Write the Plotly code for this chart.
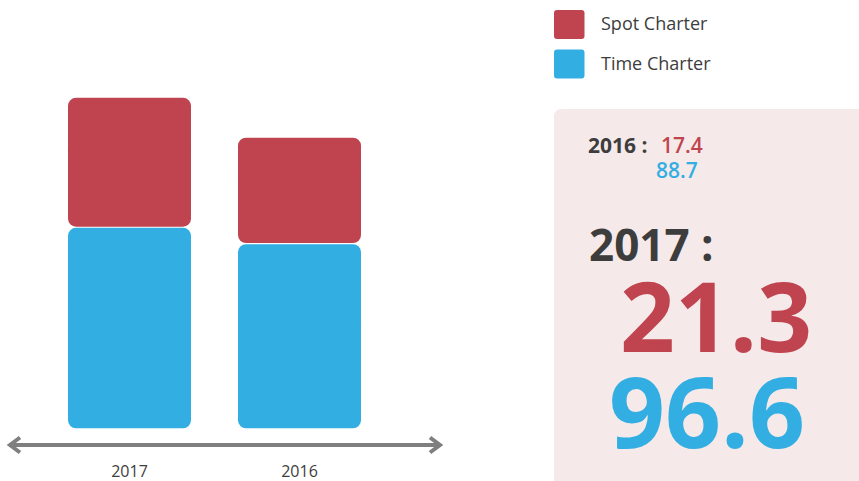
import plotly.graph_objects as go

# ---------------- data ----------------
years = ["2017", "2016"]
spot_charter = [21.3, 17.4]
time_charter = [96.6, 88.7]
series_names = ["Spot Charter", "Time Charter"]

# ---------------- style ----------------
W, H = 859, 481
RED = "#c0444f"
BLUE = "#33aee3"
DARK = "#3d3d3d"
GRAY = "#7f7f7f"
PANEL = "#f5eae9"
FONT = "Open Sans"

X_LEFT, X_RIGHT = 10, 440
P_TOP, P_BOTTOM = 60, 443
BASE_PX = 428.3
S_TIME = 2.075   # px per unit, Time Charter
S_SPOT = 6.05    # px per unit, Spot Charter (exaggerated as in the original)
GAP_PX = 1.2
CAT_PX = 170.0
BAR_W = 123 / CAT_PX
FIRST_CENTER_PX = 129.5
RADIUS = 8
OVERLAP_PX = 20


def fx(px):
    return px / W


def fy(py):
    return 1 - py / H


plot_h = P_BOTTOM - P_TOP
y_min = -(P_BOTTOM - BASE_PX) / S_TIME
y_max = y_min + plot_h / S_TIME
y2_min = -(P_BOTTOM - BASE_PX) / S_SPOT
y2_max = y2_min + plot_h / S_SPOT
x0 = -(FIRST_CENTER_PX - X_LEFT) / CAT_PX
x_range = [x0, x0 + (X_RIGHT - X_LEFT) / CAT_PX]

fig = go.Figure()


def add_segment(lo, hi, color, yaxis, name, ov):
    mid = [(a + b) / 2 for a, b in zip(lo, hi)]
    # upper part: rounded top
    fig.add_trace(go.Bar(
        x=years, base=[m - ov for m in mid], y=[h - (m - ov) for h, m in zip(hi, mid)],
        marker=dict(color=color, line=dict(width=0)), width=BAR_W, yaxis=yaxis,
        name=name, showlegend=False, hoverinfo="skip"))
    # lower part: rounded bottom
    fig.add_trace(go.Bar(
        x=years, base=[m + ov for m in mid], y=[l - (m + ov) for l, m in zip(lo, mid)],
        marker=dict(color=color, line=dict(width=0)), width=BAR_W, yaxis=yaxis,
        name=name, showlegend=False, hoverinfo="skip"))


# Time Charter on y (from zero)
add_segment([0 for _ in time_charter], time_charter, BLUE, "y", series_names[1],
            OVERLAP_PX / S_TIME)
# Spot Charter on y2, stacked on top of the time charter bar
spot_lo = [t * S_TIME / S_SPOT + GAP_PX / S_SPOT for t in time_charter]
spot_hi = [lo + s for lo, s in zip(spot_lo, spot_charter)]
add_segment(spot_lo, spot_hi, RED, "y2", series_names[0], OVERLAP_PX / S_SPOT)

shapes = []
# right panel with rounded top-left corner
r = 8
shapes.append(dict(
    type="path", xref="paper", yref="paper", layer="below",
    path=(f"M {fx(554)} {fy(481)} L {fx(554)} {fy(109 + r)} "
          f"Q {fx(554)} {fy(109)} {fx(554 + r)} {fy(109)} "
          f"L {fx(862)} {fy(109)} L {fx(862)} {fy(484)} Z"),
    fillcolor=PANEL, line=dict(width=0)))


def rrect(xa, ya, xb, yb, rad, color):
    return dict(
        type="path", xref="paper", yref="paper",
        path=(f"M {fx(xa + rad)} {fy(ya)} L {fx(xb - rad)} {fy(ya)} "
              f"Q {fx(xb)} {fy(ya)} {fx(xb)} {fy(ya + rad)} "
              f"L {fx(xb)} {fy(yb - rad)} Q {fx(xb)} {fy(yb)} {fx(xb - rad)} {fy(yb)} "
              f"L {fx(xa + rad)} {fy(yb)} Q {fx(xa)} {fy(yb)} {fx(xa)} {fy(yb - rad)} "
              f"L {fx(xa)} {fy(ya + rad)} Q {fx(xa)} {fy(ya)} {fx(xa + rad)} {fy(ya)} Z"),
        fillcolor=color, line=dict(width=0))


# legend swatches
shapes.append(rrect(554, 10, 584.5, 39, 3, RED))
shapes.append(rrect(554, 49.5, 584.5, 78.5, 3, BLUE))

# arrow heads of the axis
AY = 445
for tip, back in [(10, 20), (440, 430)]:
    shapes.append(dict(
        type="path", xref="paper", yref="paper",
        path=f"M {fx(back)} {fy(AY - 7.5)} L {fx(tip)} {fy(AY)} L {fx(back)} {fy(AY + 7.5)}",
        line=dict(color=GRAY, width=4)))

annotations = []
# legend labels
for name, yc in [(series_names[0], 23.0), (series_names[1], 63.0)]:
    annotations.append(dict(
        text=name, x=fx(599), y=fy(yc), xref="paper", yref="paper", xanchor="left",
        yanchor="middle", showarrow=False, font=dict(family=FONT, size=18, color=DARK)))


def ann(text, x, yc, size, color, weight, xanchor="left"):
    annotations.append(dict(
        text=text, x=fx(x), y=fy(yc), xref="paper", yref="paper", xanchor=xanchor,
        yanchor="middle", showarrow=False,
        font=dict(family=FONT, size=size, color=color, weight=weight)))


ann(f"{years[1]} :", 586, 145, 21, DARK, 700)
ann(f"{spot_charter[1]}", 659, 145, 21, RED, 600)
ann(f"{time_charter[1]}", 654, 170, 21, BLUE, 600)
ann(f"{years[0]} :", 587, 244, 44, DARK, 700)
ann(f"{spot_charter[0]}", 716, 314, 96, RED, 700, "center")
ann(f"{time_charter[0]}", 707, 410, 98, BLUE, 700, "center")

fig.update_layout(
    width=W, height=H, autosize=False,
    margin=dict(l=0, r=0, t=0, b=0),
    paper_bgcolor="white", plot_bgcolor="white",
    barmode="overlay", barcornerradius=RADIUS,
    showlegend=False,
    shapes=shapes, annotations=annotations,
    font=dict(family=FONT, color=DARK),
    xaxis=dict(
        domain=[fx(X_LEFT), fx(X_RIGHT)], range=x_range, type="category",
        showline=True, linecolor=GRAY, linewidth=4, showgrid=False, zeroline=False,
        ticks="", tickfont=dict(family=FONT, size=16, color=DARK),
        ticklabelstandoff=11, fixedrange=True),
    yaxis=dict(domain=[fy(P_BOTTOM), fy(P_TOP)], range=[y_min, y_max], visible=False,
               fixedrange=True),
    yaxis2=dict(overlaying="y", range=[y2_min, y2_max], visible=False, fixedrange=True),
)

fig.write_html("out.html", config={"displayModeBar": False},
               post_script="document.body.style.margin='0';document.body.style.overflow='hidden';")
